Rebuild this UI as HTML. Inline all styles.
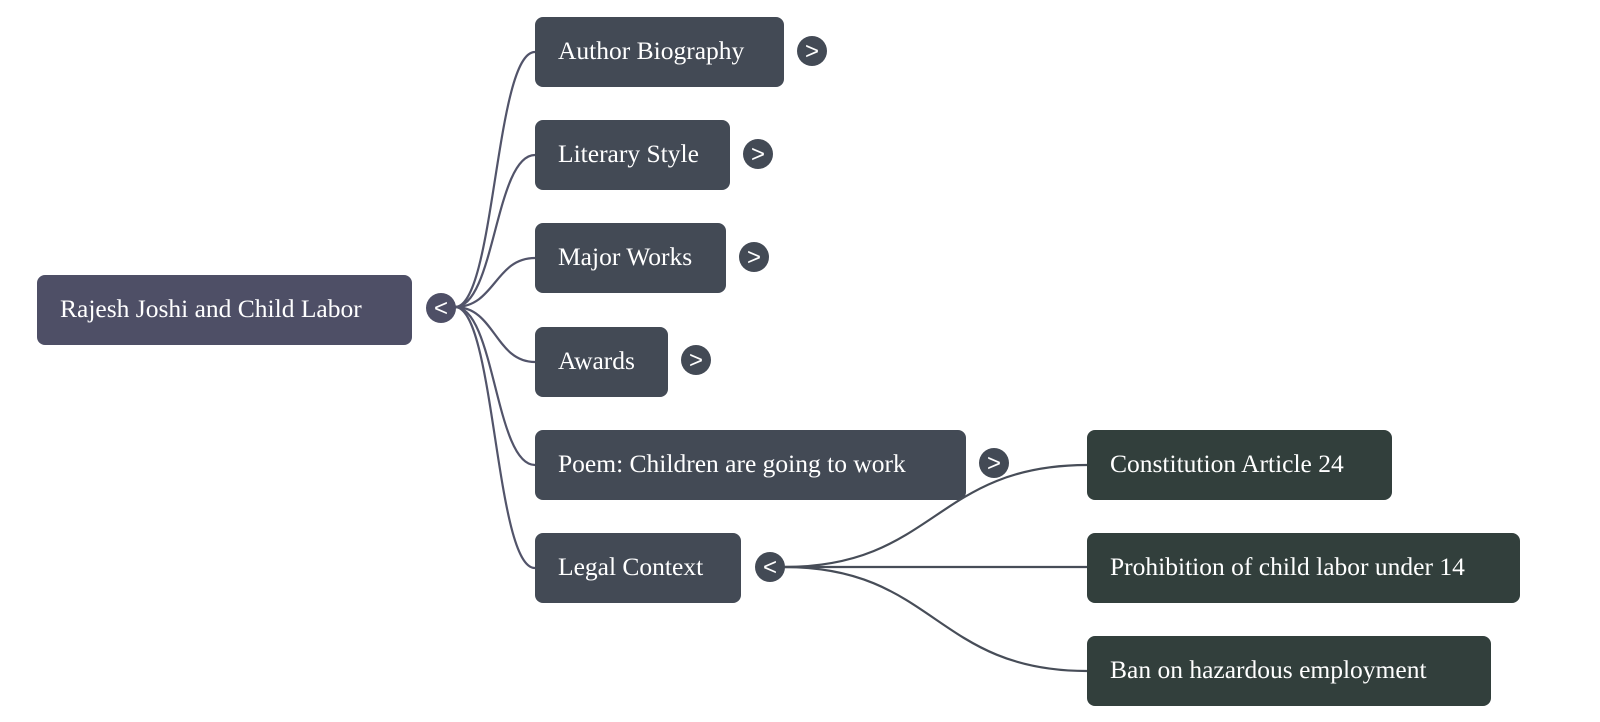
<!DOCTYPE html>
<html><head><meta charset="utf-8"><style>
body{margin:0;width:1600px;height:722px;background:#fff;position:relative;overflow:hidden;font-family:"Liberation Serif",serif;}
.n{position:absolute;height:70px;border-radius:8px;color:#fff;font-size:25.5px;line-height:68px;padding-left:23px;box-sizing:border-box;white-space:nowrap;}
.r{background:#4e4f66}.a{background:#434a55}.b{background:#323f3c}
svg{position:absolute;left:0;top:0}
</style></head><body>
<div class="n r" style="left:37px;top:275px;width:375px">Rajesh Joshi and Child Labor</div>
<div class="n a" style="left:535px;top:17px;width:249px">Author Biography</div>
<div class="n a" style="left:535px;top:120px;width:195px">Literary Style</div>
<div class="n a" style="left:535px;top:223px;width:191px">Major Works</div>
<div class="n a" style="left:535px;top:327px;width:133px">Awards</div>
<div class="n a" style="left:535px;top:430px;width:431px">Poem: Children are going to work</div>
<div class="n a" style="left:535px;top:533px;width:206px">Legal Context</div>
<div class="n b" style="left:1087px;top:430px;width:305px">Constitution Article 24</div>
<div class="n b" style="left:1087px;top:533px;width:433px">Prohibition of child labor under 14</div>
<div class="n b" style="left:1087px;top:636px;width:404px">Ban on hazardous employment</div>
<svg width="1600" height="722" fill="none" stroke-width="2.2">
<g stroke="#52546a">
<path d="M455 307 C495 307 495 52 535 52"/>
<path d="M455 307 C495 307 495 155 535 155"/>
<path d="M455 307 C495 307 495 258 535 258"/>
<path d="M455 307 C495 307 495 362 535 362"/>
<path d="M455 307 C495 307 495 465 535 465"/>
<path d="M455 307 C495 307 495 568 535 568"/>
</g>
<g stroke="#474d58">
<path d="M784 567 C935 567 935 465 1087 465"/>
<path d="M784 567 L1087 567"/>
<path d="M784 567 C935 567 935 671 1087 671"/>
</g>
<g font-family="Liberation Sans, sans-serif" font-size="24" fill="#fff" text-anchor="middle" stroke="none">
<circle cx="441" cy="308" r="15" fill="#4e4f66"/><text x="441" y="316">&lt;</text>
<circle cx="812" cy="51" r="15" fill="#434a55"/><text x="812" y="59">&gt;</text>
<circle cx="758" cy="154" r="15" fill="#434a55"/><text x="758" y="162">&gt;</text>
<circle cx="754" cy="257" r="15" fill="#434a55"/><text x="754" y="265">&gt;</text>
<circle cx="696" cy="360" r="15" fill="#434a55"/><text x="696" y="368">&gt;</text>
<circle cx="994" cy="463" r="15" fill="#434a55"/><text x="994" y="471">&gt;</text>
<circle cx="770" cy="567" r="15" fill="#434a55"/><text x="770" y="575">&lt;</text>
</g>
</svg>
</body></html>
